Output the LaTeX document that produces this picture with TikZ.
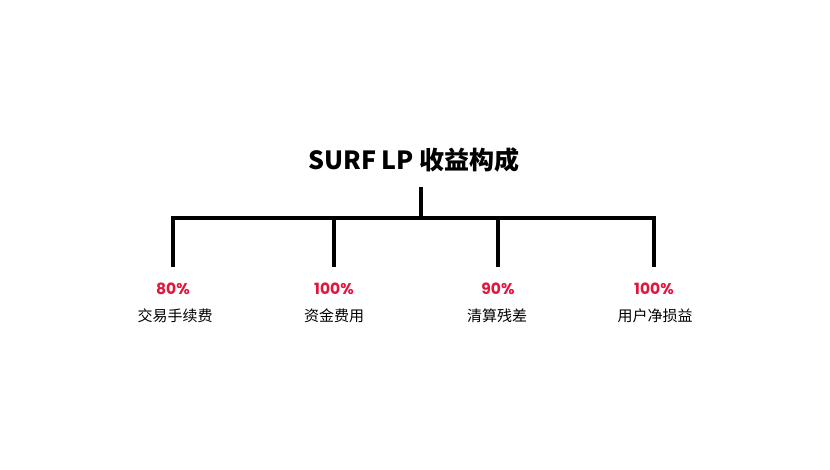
\documentclass[tikz,border=0pt]{standalone}
\usepackage{fontspec}
\usepackage{xcolor}
\usepackage{tikz}
\usetikzlibrary{positioning}
\newfontfamily\cjk{Noto Sans CJK SC}
\newfontfamily\pct{Poppins}
\definecolor{pctred}{RGB}{226,22,60}

\begin{document}
\begin{tikzpicture}[x=1pt, y=-1pt, thick,
    branch/.style={draw=black, line width=3.2pt},
    pctlabel/.style={font=\pct\bfseries\fontsize{15.5}{17}\selectfont, text=pctred, inner sep=0pt},
    partlabel/.style={font=\cjk\fontsize{15}{17}\selectfont, inner sep=0pt}]
    \useasboundingbox (0,0) rectangle (830,470);
    % Nodes
    \node[font=\cjk\bfseries\fontsize{25}{29}\selectfont, inner sep=0pt] (title) at (414,160) {SURF LP 收益构成};
    \coordinate (top) at (421,187);
    \coordinate (hub) at (421,218);
    \coordinate (j1) at (173,218);
    \coordinate (j2) at (334,218);
    \coordinate (j3) at (498,218);
    \coordinate (j4) at (654,218);
    \coordinate (e1) at (173,267);
    \coordinate (e2) at (334,267);
    \coordinate (e3) at (498,267);
    \coordinate (e4) at (654,267);

    \node[pctlabel] (fee) at (173,289) {80\%};
    \node[pctlabel] (fund) at (334,289) {100\%};
    \node[pctlabel] (liq) at (498,289) {90\%};
    \node[pctlabel] (user) at (654,289) {100\%};
    \node[partlabel] (feeL) at (175,316) {交易手续费};
    \node[partlabel] (fundL) at (334,316) {资金费用};
    \node[partlabel] (liqL) at (497,316) {清算残差};
    \node[partlabel] (userL) at (655,316) {用户净损益};

    % Paths
    \draw[branch] (top) -- (hub);
    \draw[branch] (e1) -- (j1) -- (j4) -- (e4);
    \draw[branch] (j2) -- (e2);
    \draw[branch] (j3) -- (e3);
\end{tikzpicture}
\end{document}
